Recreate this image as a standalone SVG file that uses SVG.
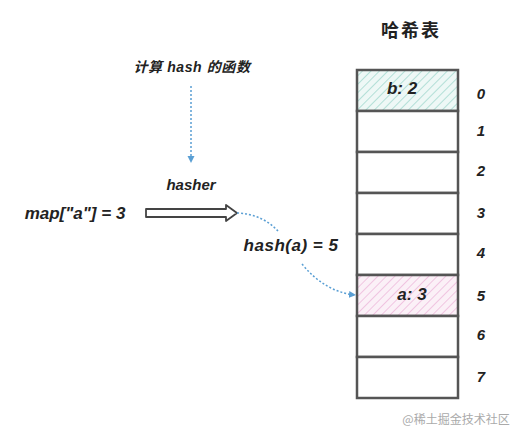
<svg xmlns="http://www.w3.org/2000/svg" width="512" height="438" viewBox="0 0 512 438">
<defs>
<pattern id="hatchG" patternUnits="userSpaceOnUse" width="6" height="6" patternTransform="rotate(45)">
<rect width="6" height="6" fill="#eef8f6"/>
<line x1="0" y1="0" x2="0" y2="6" stroke="#8ccfc3" stroke-width="1.2"/>
</pattern>
<pattern id="hatchP" patternUnits="userSpaceOnUse" width="6" height="6" patternTransform="rotate(45)">
<rect width="6" height="6" fill="#fbf0f7"/>
<line x1="0" y1="0" x2="0" y2="6" stroke="#e9a9d3" stroke-width="1.2"/>
</pattern>
<marker id="dotArrow" markerWidth="8" markerHeight="8" refX="6" refY="4" orient="auto" markerUnits="userSpaceOnUse">
<path d="M0,0.5 L7,4 L0,7.5 Z" fill="#5a9fd4"/>
</marker>
</defs>
<style>
.t{font-family:"Liberation Sans","Noto Sans CJK SC",sans-serif;font-style:italic;font-weight:bold;fill:#222}
.c{font-family:"Noto Sans CJK SC",sans-serif;font-weight:bold;fill:#222}
.cell{fill:#fff;stroke:#555;stroke-width:2.5}
.dot{fill:none;stroke:#5a9fd4;stroke-width:1.5;stroke-dasharray:2 2}
.idx{font-family:"Liberation Sans",sans-serif;font-style:italic;font-weight:bold;font-size:15px;fill:#222}
</style>
<rect width="512" height="438" fill="#fff"/>
<g id="title"><text class="c" x="411" y="37" font-size="18" text-anchor="middle" letter-spacing="2">哈希表</text></g>
<g id="hash-func-label"><text class="t" x="192" y="72" font-size="14" text-anchor="middle" letter-spacing="0.6">计算 hash 的函数</text></g>
<g id="hasher"><text class="t" x="191" y="190" font-size="15" text-anchor="middle">hasher</text></g>
<g id="map-expr"><text class="t" x="75" y="219" font-size="17" text-anchor="middle">map["a"] = 3</text></g>
<g id="hash-result"><text class="t" x="291" y="251" font-size="17" text-anchor="middle" font-weight="normal" letter-spacing="0.5">hash(a) = 5</text></g>
<g id="table">
<rect class="cell" x="357" y="70" width="101" height="41" style="fill:url(#hatchG)"/>
<rect class="cell" x="357" y="111" width="101" height="41"/>
<rect class="cell" x="357" y="152" width="101" height="41"/>
<rect class="cell" x="357" y="193" width="101" height="41"/>
<rect class="cell" x="357" y="234" width="101" height="41"/>
<rect class="cell" x="357" y="275" width="101" height="41" style="fill:url(#hatchP)"/>
<rect class="cell" x="357" y="316" width="101" height="41"/>
<rect class="cell" x="357" y="357" width="101" height="41"/>
<text class="t" x="402" y="94" font-size="17" text-anchor="middle">b: 2</text>
<text class="t" x="412" y="300" font-size="17" text-anchor="middle" font-weight="normal">a: 3</text>
</g>
<g id="indices">
<text class="idx" x="481" y="99" text-anchor="middle">0</text>
<text class="idx" x="481" y="136" text-anchor="middle">1</text>
<text class="idx" x="481" y="176" text-anchor="middle">2</text>
<text class="idx" x="481" y="218" text-anchor="middle">3</text>
<text class="idx" x="481" y="258" text-anchor="middle">4</text>
<text class="idx" x="481" y="301" text-anchor="middle">5</text>
<text class="idx" x="481" y="340" text-anchor="middle">6</text>
<text class="idx" x="481" y="382" text-anchor="middle">7</text>
</g>
<g id="connectors">
<line class="dot" x1="191" y1="86" x2="191" y2="162" marker-end="url(#dotArrow)"/>
<path d="M146,209 L226,209 L226,205 L237,213 L226,221 L226,217 L146,217 Z" fill="#fff" stroke="#444" stroke-width="1.8" stroke-linejoin="round"/>
<path class="dot" d="M237,213 Q262,214 278,231"/>
<path class="dot" d="M302,264 Q325,292 355,295" marker-end="url(#dotArrow)"/>
</g>
<g id="watermark"><text x="456" y="424" font-family="'Noto Sans CJK SC',sans-serif" font-size="12" fill="#aaa" text-anchor="middle">@稀土掘金技术社区</text></g>
</svg>
